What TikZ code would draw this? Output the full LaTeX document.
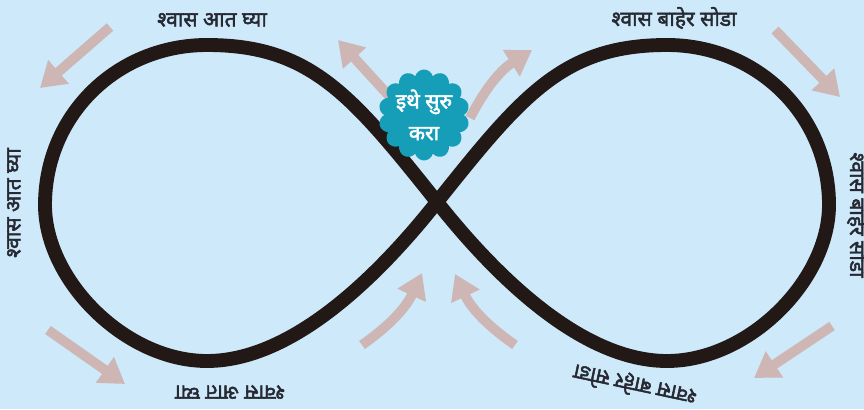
\documentclass[tikz,border=0pt]{standalone}
\usepackage{fontspec}
\newfontfamily\deva[Script=Devanagari, BoldFont={Noto Sans}, BoldFeatures={FakeBold=2.2}]{Noto Sans}
\usepackage{tikz}
\usetikzlibrary{arrows.meta,shapes.symbols}

\definecolor{skyback}{RGB}{205,233,250}
\definecolor{loopink}{RGB}{34,24,22}
\definecolor{arrowpink}{RGB}{206,182,180}
\definecolor{startteal}{RGB}{22,158,184}
\definecolor{labelink}{RGB}{38,40,50}

\begin{document}
\begin{tikzpicture}[
    x=0.02cm, y=0.02cm,
    loopline/.style={draw=loopink, line width=7.9pt, line join=round},
    flow/.style={draw=arrowpink, line width=5.6pt, -{Triangle[length=14pt, width=17pt]}},
    breath/.style={font=\deva\bfseries\fontsize{12}{14}\selectfont, text=labelink, inner sep=0pt},
    startcloud/.style={cloud, cloud puffs=14, aspect=1, fill=startteal, text=white, align=center,
        inner sep=0pt, minimum width=1.78cm, minimum height=1.74cm, font=\deva\bfseries\fontsize{12}{18}\selectfont},
]

% Background
\fill[skyback] (0,0) rectangle (864,409);
\useasboundingbox (0,0) rectangle (864,409);

% Figure eight
\coordinate (cross) at (437,207);
\coordinate (ltop) at (207,364);
\coordinate (lend) at (45,204);
\coordinate (lbot) at (207,48);
\coordinate (rtop) at (667,364);
\coordinate (rend) at (829,204);
\coordinate (rbot) at (667,48);

\draw[loopline] (cross) .. controls (351,315) and (310,364) .. (ltop)
    .. controls (117,364) and (45,294) .. (lend)
    .. controls (45,129) and (125,48) .. (lbot)
    .. controls (300,48) and (391,149) .. (cross)
    .. controls (523,315) and (564,364) .. (rtop)
    .. controls (757,364) and (829,294) .. (rend)
    .. controls (829,129) and (749,48) .. (rbot)
    .. controls (574,48) and (483,149) .. cycle;

% Arrows round the loops
\coordinate (a1s) at (110,382); \coordinate (a1t) at (40,321);
\coordinate (a2s) at (390,312); \coordinate (a2t) at (338,369);
\coordinate (a3s) at (470,291); \coordinate (a3t) at (532,359);
\coordinate (a4s) at (775,379); \coordinate (a4t) at (840,312);
\coordinate (a5s) at (832,83);  \coordinate (a5t) at (754,31);
\coordinate (a6s) at (515,64);  \coordinate (a6t) at (455,135);
\coordinate (a7s) at (362,64);  \coordinate (a7t) at (422,136);
\coordinate (a8s) at (48,79);   \coordinate (a8t) at (125,25);

\draw[flow] (a1s) -- (a1t);
\draw[flow] (a2s) -- (a2t);
\draw[flow] (a3s) to[bend left=15] (a3t);
\draw[flow] (a4s) -- (a4t);
\draw[flow] (a5s) -- (a5t);
\draw[flow] (a6s) to[bend left=15] (a6t);
\draw[flow] (a7s) to[bend right=15] (a7t);
\draw[flow] (a8s) -- (a8t);

% Start badge
\node[startcloud] (start) at (424,294) {इथे सुरु\\करा};

% Labels
\node[breath] (intop) at (212,389) {श्वास आत घ्या};
\node[breath] (outtop) at (674,391) {श्वास बाहेर सोडा};
\node[breath, rotate=90] (inside) at (14,206) {श्वास आत घ्या};
\node[breath, rotate=-90] (outside) at (858,194) {श्वास बाहेर सोडा};
\node[breath, rotate=180] (inbottom) at (230,17) {श्वास आत घ्या};
\node[breath, rotate=168] (outbottom) at (635,24) {श्वास बाहेर सोडा};

\end{tikzpicture}
\end{document}
